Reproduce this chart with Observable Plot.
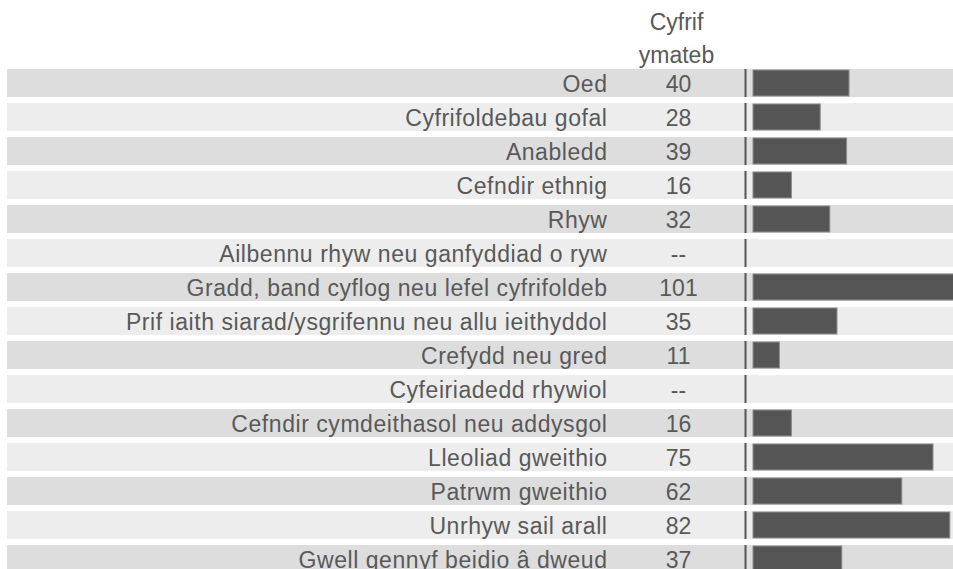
<!DOCTYPE html>
<html>
<head>
<meta charset="utf-8">
<script src="https://cdn.jsdelivr.net/npm/d3@7"></script>
<script src="https://cdn.jsdelivr.net/npm/@observablehq/plot@0.6"></script>
<style>
  html, body { margin: 0; padding: 0; background: #ffffff; }
</style>
</head>
<body>
<div id="chart"></div>
<script>
const categories = [
  "Oed",
  "Cyfrifoldebau gofal",
  "Anabledd",
  "Cefndir ethnig",
  "Rhyw",
  "Ailbennu rhyw neu ganfyddiad o ryw",
  "Gradd, band cyflog neu lefel cyfrifoldeb",
  "Prif iaith siarad/ysgrifennu neu allu ieithyddol",
  "Crefydd neu gred",
  "Cyfeiriadedd rhywiol",
  "Cefndir cymdeithasol neu addysgol",
  "Lleoliad gweithio",
  "Patrwm gweithio",
  "Unrhyw sail arall",
  "Gwell gennyf beidio â dweud"
];
const counts = [40, 28, 39, 16, 32, null, 101, 35, 11, null, 16, 75, 62, 82, 37];
const headerText = "Cyfrif\nymateb";
const missingText = "--";

const rows = categories.map((cat, i) => ({
  cat,
  n: counts[i],
  label: counts[i] == null ? missingText : String(counts[i]),
  shade: i % 2 === 0 ? "#dddddd" : "#ededed"
}));

const textColor = "#595959";

const chart = Plot.plot({
  width: 953,
  height: 569,
  marginLeft: 7,
  marginRight: 0,
  marginTop: 0,
  marginBottom: 0,
  style: {
    fontFamily: "'Liberation Sans', Arial, Helvetica, sans-serif",
    fontSize: "23px",
    background: "#ffffff",
    overflow: "hidden"
  },
  x: { domain: [0, 100], range: [753, 993], axis: null },
  y: {
    type: "band",
    domain: categories,
    range: [66, 576],
    paddingInner: 6 / 34,
    paddingOuter: 3 / 34,
    round: false,
    axis: null
  },
  marks: [
    Plot.cell(rows, { y: "cat", fill: "shade" }),
    Plot.tickX(rows, { x: () => 0, y: "cat", dx: -8, stroke: "#555555", strokeWidth: 2 }),
    Plot.barX(rows.filter(d => d.n != null), {
      x: "n", y: "cat",
      fill: "#555555", stroke: "#8c8c8c", strokeWidth: 1,
      insetTop: 1, insetBottom: 1
    }),
    Plot.text(rows, {
      y: "cat", text: "cat", frameAnchor: "left", dx: 600, dy: 1,
      textAnchor: "end", fill: textColor
    }),
    Plot.text(rows, {
      y: "cat", text: "label", frameAnchor: "left", dx: 671, dy: 1,
      textAnchor: "middle", fill: textColor
    }),
    Plot.text([headerText], {
      text: d => d, frameAnchor: "top-left", dx: 669, dy: 62,
      lineAnchor: "bottom", lineHeight: 1.43,
      textAnchor: "middle", fill: textColor
    })
  ]
});
const textGroups = chart.querySelectorAll('g[aria-label="text"]');
if (textGroups.length) textGroups[0].setAttribute("letter-spacing", "0.55px");
document.getElementById("chart").appendChild(chart);
</script>
</body>
</html>
